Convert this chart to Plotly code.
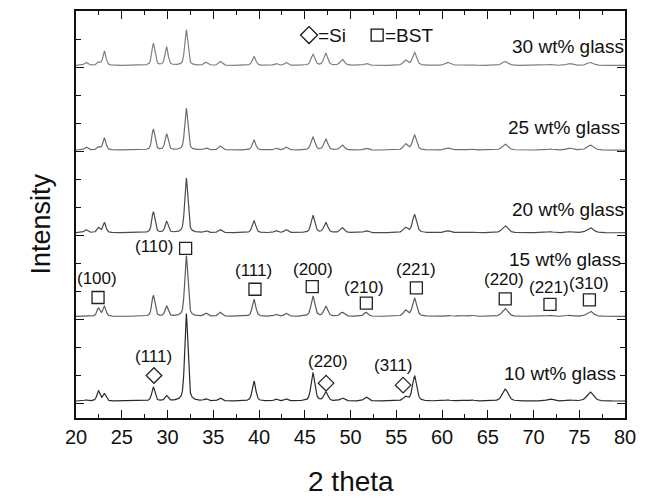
import numpy as np
import plotly.graph_objects as go

# ---- data (peak table; intensities in arbitrary units) ----
peak_pos = [21.1, 22.45, 23.1, 28.45, 29.9, 32.05, 34.2, 35.75, 39.45, 41.85, 42.95,
            45.9, 47.3, 49.1, 51.7, 56.0, 57.0, 60.6, 62.0, 63.2, 66.9, 71.8, 73.9, 76.2]
peak_fwhm = [0.45, 0.4, 0.4, 0.4, 0.4, 0.4, 0.45, 0.45, 0.45, 0.45, 0.45,
             0.5, 0.5, 0.55, 0.55, 0.55, 0.55, 0.65, 0.65, 0.65, 0.75, 0.75, 0.75, 0.85]

h_10 = [1, 10, 7, 14, 5, 88, 2, 3, 20, 2, 2, 28, 9, 3, 4, 4, 25, 1, 1, 1, 12, 2, 1, 9]
h_15 = [1, 8, 10, 21, 10, 61, 3, 4, 17, 2, 3, 20, 10, 4, 4, 6, 18, 1, 1, 1, 8, 1, 1, 5]
h_20 = [3, 5, 10, 21, 11, 55, 2, 3, 12, 2, 3, 17, 10, 5, 2, 5, 18, 2, 1, 1, 7, 1, 1, 5]
h_25 = [3, 3, 12, 21, 16, 42, 2, 4, 10, 2, 3, 13, 11, 5, 2, 6, 15, 2, 1, 1, 6, 1, 2, 5]
h_30 = [3, 3, 14, 22, 18, 36, 3, 4, 9, 2, 3, 11, 12, 6, 2, 5, 13, 3, 1, 1, 4, 1, 2, 3]

sample_names = ["10 wt% glass", "15 wt% glass", "20 wt% glass", "25 wt% glass", "30 wt% glass"]
sample_offsets = [2, 87, 171, 254, 339]
sample_heights = [h_10, h_15, h_20, h_25, h_30]
sample_colors = ["#2a2a2a", "#5a5a5a", "#4a4a4a", "#6e6e6e", "#808080"]

bst_labels = ["(100)", "(110)", "(111)", "(200)", "(210)", "(221)", "(220)", "(221)", "(310)"]
bst_mark_x = [22.41, 31.98, 39.56, 45.82, 51.73, 57.2, 66.91, 71.8, 76.11]
bst_mark_y = [106, 155.3, 114.3, 117, 100.3, 115.7, 104.7, 99, 103.7]
bst_text_x = [22.3, 28.52, 39.42, 45.9, 51.51, 57.12, 66.83, 71.69, 76.11]
bst_text_y = [124.7, 157, 133, 134, 116.3, 133.7, 123.7, 116.3, 120.3]

si_labels = ["(111)", "(220)", "(311)"]
si_mark_x = [28.52, 47.33, 55.75]
si_mark_y = [27.7, 20, 18]
si_text_x = [28.52, 47.59, 54.67]
si_text_y = [46.3, 41.3, 38]

# label right edges, as a fraction of the plot width
name_x = [0.9874, 0.9964, 1.0018, 0.9946, 1.0018]
name_y = [29.7, 143.7, 194.7, 276.3, 358]

FONT = "Liberation Sans, Arial, sans-serif"

# ---- build patterns from the peak table (pseudo-Voigt profile) ----
two_theta = np.arange(20.0, 80.0001, 0.02)


def pattern(heights, offset):
    y = np.zeros_like(two_theta)
    for p, w, h in zip(peak_pos, peak_fwhm, heights):
        g = np.exp(-4 * np.log(2) * ((two_theta - p) / w) ** 2)
        l = 1.0 / (1.0 + 4 * ((two_theta - p) / w) ** 2)
        y += h * (0.5 * g + 0.5 * l)
    return y + offset


fig = go.Figure()
for name, off, hs, col in zip(sample_names, sample_offsets, sample_heights, sample_colors):
    fig.add_trace(go.Scatter(x=two_theta, y=pattern(hs, off), mode="lines",
                             line=dict(color=col, width=1.2), name=name, showlegend=False))

# markers
fig.add_trace(go.Scatter(x=bst_mark_x, y=bst_mark_y, mode="markers", showlegend=False,
                         marker=dict(symbol="square-open", size=12, color="#222",
                                     line=dict(width=1.3, color="#222"))))
fig.add_trace(go.Scatter(x=si_mark_x, y=si_mark_y, mode="markers", showlegend=False,
                         marker=dict(symbol="diamond-open", size=12, color="#222",
                                     line=dict(width=1.3, color="#222"))))
# key markers
fig.add_trace(go.Scatter(x=[45.47], y=[369.5], mode="markers", showlegend=False,
                         marker=dict(symbol="diamond-open", size=13, color="#111",
                                     line=dict(width=1.3, color="#111"))))
fig.add_trace(go.Scatter(x=[52.91], y=[369.5], mode="markers", showlegend=False,
                         marker=dict(symbol="square-open", size=12, color="#111",
                                     line=dict(width=1.3, color="#111"))))

ann = []
for t, x, y in zip(bst_labels, bst_text_x, bst_text_y):
    ann.append(dict(x=x, y=y, text=t, showarrow=False, xref="x", yref="y",
                    font=dict(family=FONT, size=17, color="#111")))
for t, x, y in zip(si_labels, si_text_x, si_text_y):
    ann.append(dict(x=x, y=y, text=t, showarrow=False, xref="x", yref="y",
                    font=dict(family=FONT, size=17, color="#111")))
for t, x, y in zip(sample_names, name_x, name_y):
    ann.append(dict(x=x, y=y, text=t, showarrow=False, xref="paper", yref="y", xanchor="right",
                    font=dict(family=FONT, size=19, color="#111")))
ann.append(dict(x=46.22, y=369.5, text="=Si", showarrow=False, xref="x", yref="y",
                xanchor="left", font=dict(family=FONT, size=19, color="#111")))
ann.append(dict(x=53.56, y=369.5, text="=BST", showarrow=False, xref="x", yref="y",
                xanchor="left", font=dict(family=FONT, size=19, color="#111")))
ann.append(dict(x=0.5, y=-0.155, xref="paper", yref="paper", text="2 theta", showarrow=False,
                yanchor="middle", font=dict(family=FONT, size=28, color="#111")))
ann.append(dict(x=-0.0953, y=0.477, xref="paper", yref="paper", text="Intensity", showarrow=False,
                textangle=-90, font=dict(family=FONT, size=27, color="#111")))

fig.update_layout(
    width=645, height=498,
    margin=dict(l=76, r=13, t=9, b=80),
    paper_bgcolor="white", plot_bgcolor="white",
    annotations=ann,
    xaxis=dict(range=[20, 80], tickmode="linear", tick0=20, dtick=5,
               ticks="inside", ticklen=8, tickwidth=1.3, tickcolor="#111",
               minor=dict(ticks="inside", dtick=2.5, ticklen=4, tickwidth=1.2, tickcolor="#111"),
               showline=True, linecolor="#111", linewidth=1.6, mirror="ticks",
               showgrid=False, zeroline=False,
               tickfont=dict(family=FONT, size=20, color="#111")),
    yaxis=dict(range=[-15, 393.7], tickmode="linear", tick0=0, dtick=84.24,
               ticks="inside", ticklen=8, tickwidth=1.3, tickcolor="#111",
               minor=dict(ticks="inside", dtick=28.08, ticklen=5, tickwidth=1.2, tickcolor="#111"),
               showline=True, linecolor="#111", linewidth=1.6, mirror="ticks",
               showgrid=False, zeroline=False, showticklabels=False),
)

fig.write_html("out.html")
